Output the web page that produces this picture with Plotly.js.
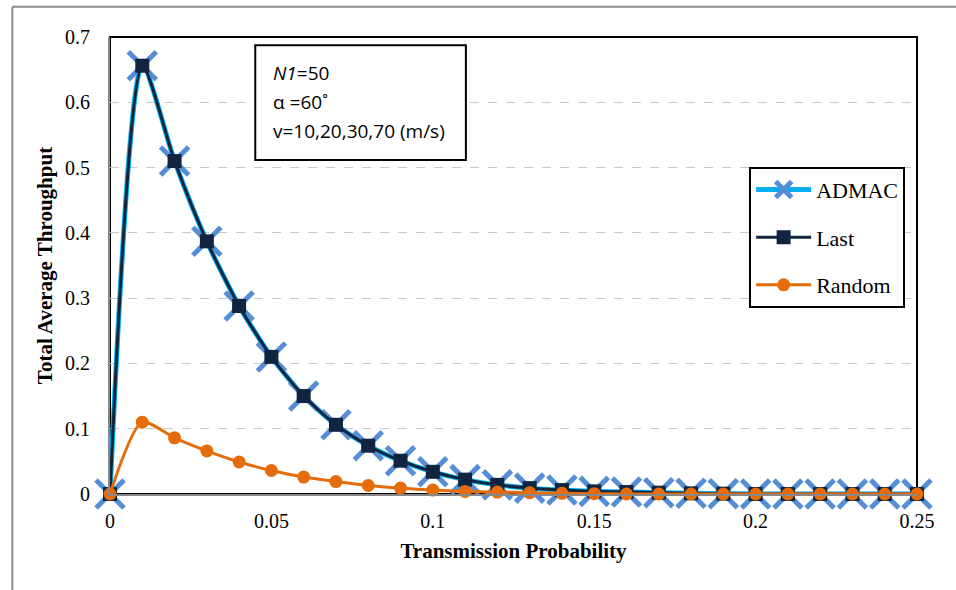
<!DOCTYPE html>
<html>
<head>
<meta charset="utf-8">
<script src="https://cdn.plot.ly/plotly-3.0.1.min.js"></script>
<style>html,body{margin:0;padding:0;background:#fff;}#chart{width:956px;height:590px;}</style>
</head>
<body>
<div id="chart"></div>
<script>
const transmissionProbability = [0,0.01,0.02,0.03,0.04,0.05,0.06,0.07,0.08,0.09,0.10,0.11,0.12,0.13,0.14,0.15,0.16,0.17,0.18,0.19,0.20,0.21,0.22,0.23,0.24,0.25];
const admacThroughput = [0,0.656,0.510,0.387,0.288,0.210,0.150,0.106,0.074,0.051,0.034,0.022,0.014,0.009,0.006,0.004,0.003,0.002,0.001,0.0005,0,0,0,0,0,0];
const lastThroughput  = [0,0.656,0.510,0.387,0.288,0.210,0.150,0.106,0.074,0.051,0.034,0.022,0.014,0.009,0.006,0.004,0.003,0.002,0.001,0.0005,0,0,0,0,0,0];
const randomThroughput = [0,0.110,0.086,0.066,0.049,0.036,0.026,0.019,0.013,0.009,0.006,0.004,0.003,0.002,0.001,0.0005,0,0,0,0,0,0,0,0,0,0];
const seriesNames = ["ADMAC","Last","Random"];
const xTicks = [0,0.05,0.1,0.15,0.2,0.25];
const xTickLabels = ["0","0.05","0.1","0.15","0.2","0.25"];
const yTicks = [0,0.1,0.2,0.3,0.4,0.5,0.6,0.7];
const yTickLabels = ["0","0.1","0.2","0.3","0.4","0.5","0.6","0.7"];
const noteLines = ["<i>N1</i>=50", "α =60˚", "v=10,20,30,70 (m/s)"];

const serif = "Liberation Serif, Times New Roman, serif";
const sans = "Open Sans, Liberation Sans, sans-serif";

const traces = [
  {
    x: transmissionProbability, y: admacThroughput, name: seriesNames[0],
    type: "scatter", mode: "lines+markers", legendgroup: "a",
    line: {color: "#00B0F0", width: 5, shape: "spline", smoothing: 0.7},
    marker: {symbol: "x-thin", size: 28, color: "#558ED5", line: {color: "#558ED5", width: 5}},
    cliponaxis: false
  },
  {
    x: transmissionProbability, y: lastThroughput, name: seriesNames[1],
    type: "scatter", mode: "lines+markers", legendgroup: "b",
    line: {color: "#10253F", width: 3, shape: "spline", smoothing: 0.7},
    marker: {symbol: "square", size: 14, color: "#10253F"},
    cliponaxis: false
  },
  {
    x: transmissionProbability, y: randomThroughput, name: seriesNames[2],
    type: "scatter", mode: "lines+markers", legendgroup: "c",
    line: {color: "#E46C0A", width: 3, shape: "spline", smoothing: 0.7},
    marker: {symbol: "circle", size: 13, color: "#E46C0A"},
    cliponaxis: false
  }
];

const noteAnnotations = noteLines.map((t, i) => ({
  xref: "paper", yref: "paper", x: 0.1995, y: 0.922 - i * 0.0635,
  xanchor: "left", yanchor: "middle", showarrow: false, align: "left",
  text: t, font: {family: sans, size: 19, color: "#000"}
}));

const layout = {
  width: 956, height: 590,
  margin: {l: 110, r: 39, t: 37, b: 96},
  paper_bgcolor: "#fff", plot_bgcolor: "#fff",
  font: {family: serif, size: 20, color: "#000"},
  showlegend: true,
  legend: {
    x: 0.792, y: 0.716, xanchor: "left", yanchor: "top",
    bordercolor: "#000", borderwidth: 2, bgcolor: "#fff",
    font: {family: serif, size: 22, color: "#000"},
    traceorder: "grouped", tracegroupgap: 16, itemwidth: 55
  },
  xaxis: {
    range: [0, 0.25], tickvals: xTicks, ticktext: xTickLabels,
    showgrid: false, zeroline: false, showline: true, linecolor: "#888", linewidth: 2,
    ticks: "", ticklen: 0, ticklabelstandoff: 8, tickfont: {family: serif, size: 20},
    title: {text: "<b>Transmission Probability</b>", font: {family: serif, size: 21}, standoff: 12}
  },
  yaxis: {
    range: [0, 0.7], tickvals: yTicks, ticktext: yTickLabels,
    showgrid: true, gridcolor: "#c8c8c8", griddash: "dash", gridwidth: 1,
    zeroline: false, showline: true, linecolor: "#888", linewidth: 2,
    ticks: "", ticklabelstandoff: 14, tickfont: {family: serif, size: 20},
    title: {text: "<b>Total Average Throughput</b>", font: {family: serif, size: 21}, standoff: 7}
  },
  shapes: [
    {type: "rect", xref: "paper", yref: "paper", x0: 0, x1: 1, y0: 0, y1: 1,
     line: {color: "#000", width: 2}, layer: "below"},
    {type: "line", xref: "paper", yref: "paper", x0: -0.121, x1: 1.06, y0: 1.066, y1: 1.066,
     line: {color: "#8a8a8a", width: 2}},
    {type: "line", xref: "paper", yref: "paper", x0: -0.121, x1: -0.121, y0: -0.22, y1: 1.066,
     line: {color: "#8a8a8a", width: 2}},
    {type: "rect", xref: "paper", yref: "paper", x0: 0.180, x1: 0.441, y0: 0.731, y1: 0.982,
     line: {color: "#000", width: 2}, fillcolor: "#fff", layer: "above"}
  ],
  annotations: noteAnnotations
};

Plotly.newPlot("chart", traces, layout, {displayModeBar: false, staticPlot: true});
</script>
</body>
</html>
